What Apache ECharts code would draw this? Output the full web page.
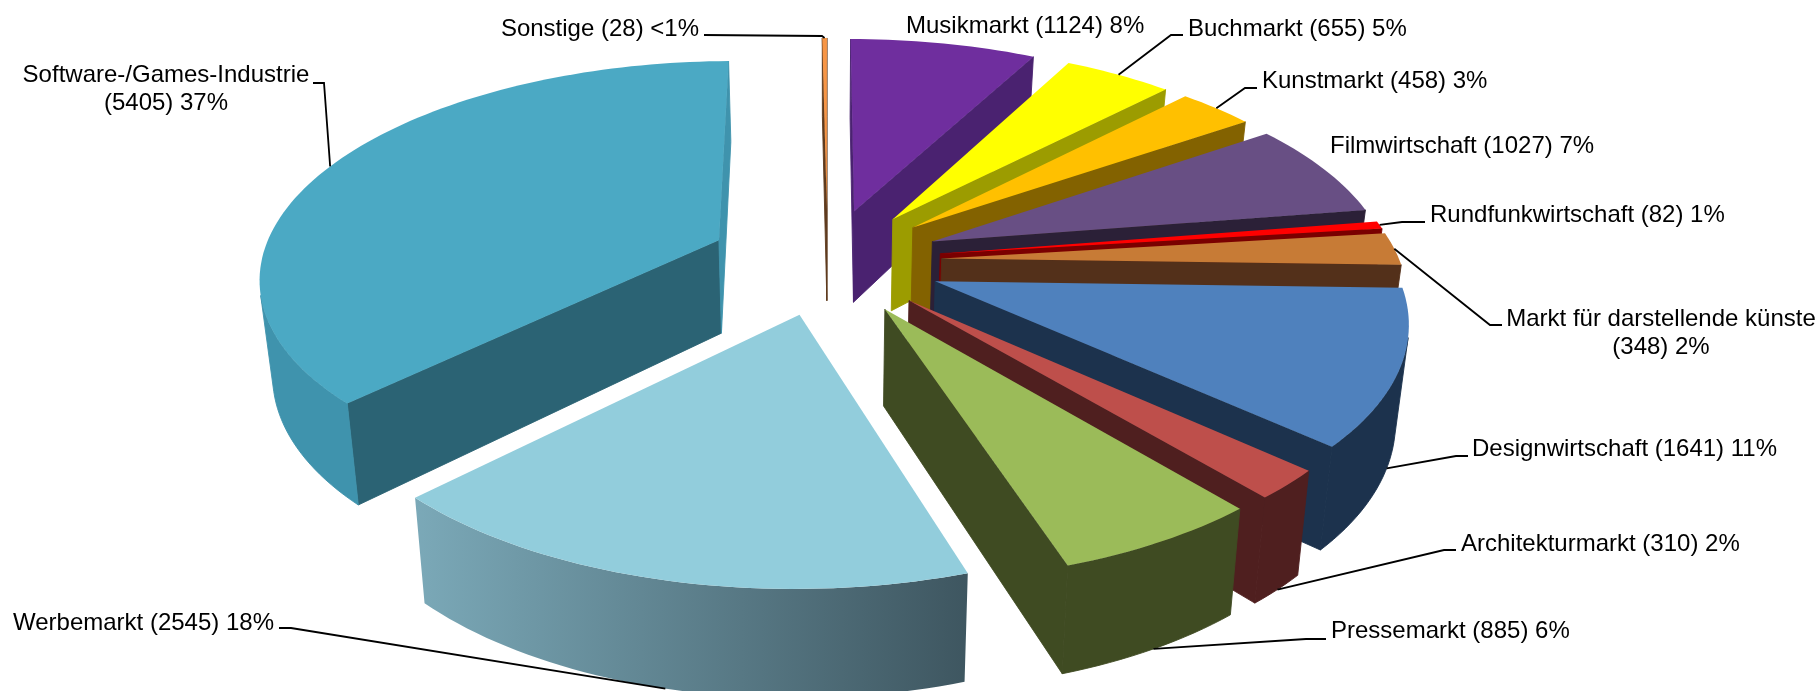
<!DOCTYPE html>
<html>
<head>
    <meta charset="UTF-8">
    <title>Kreativwirtschaft</title>
    <script src="https://cdn.jsdelivr.net/npm/echarts@6/dist/echarts.min.js"></script>
    <style>
        *{margin:0;padding:0}
        html,body{width:100%;height:100%;background:#fff;overflow:hidden}
        #main{width:1820px;height:691px}
    </style>
</head>
<body>
    <div id="main"></div>

    <script type="text/javascript">
        // clockwise from 12 o'clock
        var names = ['Musikmarkt','Buchmarkt','Kunstmarkt','Filmwirtschaft','Rundfunkwirtschaft','Markt für darstellende künste','Designwirtschaft','Architekturmarkt','Pressemarkt','Werbemarkt','Software-/Games-Industrie','Sonstige'];
        var values = [1124,655,458,1027,82,348,1641,310,885,2545,5405,28];
        var percents = ['8%','5%','3%','7%','1%','2%','11%','2%','6%','18%','37%','<1%'];

        var topColors = ['#6F2E9E','#FFFF00','#FFC000','#684F84','#FF0000','#C77B36','#4F81BD','#BE4F4B','#9BBB59','#92CDDC','#4BA9C4','#F79646'];
        var cutColors = ['#4A2270','#9C9C00','#836200','#2B2037','#7A0000','#53301A','#1C324D','#4F1F1F','#3F4B22','#3E5660','#2B6374','#5E3A1D'];
        var rimLeft   = ['#4A2270','#9C9C00','#836200','#2B2037','#7A0000','#53301A','#1C324D','#4F1F1F','#3F4B22','#7BA9B8','#3F93AD','#5E3A1D'];
        var rimRight  = ['#4A2270','#9C9C00','#836200','#2B2037','#7A0000','#53301A','#1C324D','#4F1F1F','#3F4B22','#3E5660','#3F93AD','#5E3A1D'];

        // label anchor, elbow of leader (null = no leader)
        var labelPos = [
            {x:906,y:26,align:'left'},{x:1188,y:29,align:'left'},{x:1262,y:81,align:'left'},{x:1330,y:146,align:'left'},
            {x:1430,y:215,align:'left'},{x:1661,y:333,align:'center',br:true},{x:1472,y:449,align:'left'},{x:1461,y:544,align:'left'},
            {x:1331,y:631,align:'left'},{x:274,y:623,align:'right'},{x:166,y:89,align:'center',br:true},{x:699,y:29,align:'right'}
        ];
        var leaders = [
            null,[[1183,35],[1171,35]],[[1257,88],[1245,88]],null,
            [[1425,222],[1402,222]],[[1502,325],[1490,325]],[[1468,456],[1456,456]],[[1456,550],[1444,550]],
            [[1326,639],[1306,639]],[[279,628],[291,628]],[[313,83],[324,83]],[[704,35],[822,36]]
        ];
        // where the leader touches the slice: fraction across the arc, 0 top rim / 1 bottom rim
        var leaderTouch = [null,[.5,0],[.5,0],null,[.5,0],[.5,0],[.5,1],[.5,1],[.5,1],[.5,1],[.5,0],[.5,0]];
        var explodes = [.25,.25,.25,.25,.25,.25,.25,.25,.25,.25,.26,.25];

        var cx = 827.5, cy = 261, sx = 458, sy = 213, persp = .155, depth = 94, shrink = .023;
        var total = values.reduce(function (a, b) { return a + b; }, 0);
        var starts = [], acc = 0;
        values.forEach(function (v) { starts.push(acc / total * 2 * Math.PI); acc += v; });

        function project(X, Y, z) {
            var w = 1 / (1 - persp * Y);
            return [cx + X * sx * w * (1 - shrink * z), cy + Y * sy * w + z * depth * (1 + .13 * Y)];
        }
        function slicePoint(i, ang, r, z) {
            var mid = starts[i] + values[i] / total * Math.PI;
            var X = explodes[i] * Math.sin(mid) + r * Math.sin(ang), Y = -explodes[i] * Math.cos(mid) - r * Math.cos(ang);
            return project(X, Y, z);
        }
        function area(p) {
            var s = 0;
            for (var i = 0; i < p.length; i++) {
                var q = p[(i + 1) % p.length];
                s += p[i][0] * q[1] - q[0] * p[i][1];
            }
            return s;
        }
        function poly(points, color, z2, edge) {
            return {type: 'polygon', z2: z2, shape: {points: points}, style: {fill: color, stroke: edge ? color : null, lineWidth: .9}};
        }

        // back slices first
        var order = values.map(function (v, i) { return i; }).sort(function (a, b) {
            var ma = starts[a] + values[a] / total * Math.PI, mb = starts[b] + values[b] / total * Math.PI;
            return -Math.cos(ma) + Math.cos(mb);
        });

        function renderSlice(params, api) {
            var i = params.dataIndex, value = api.value(0);
            var a0 = starts[i], a1 = a0 + value / total * 2 * Math.PI;
            var base = (order.indexOf(i) + 1) * 10, kids = [];
            var n = Math.max(2, Math.ceil((a1 - a0) / .025)), t, rimTop = [], rimBottom = [];
            for (t = 0; t <= n; t++) {
                rimTop.push(slicePoint(i, a0 + (a1 - a0) * t / n, 1, 0));
                rimBottom.push(slicePoint(i, a0 + (a1 - a0) * t / n, 1, 1));
            }

            var A = slicePoint(i, a0, 0, 0), Ab = slicePoint(i, a0, 0, 1);
            var startFace = [A, rimTop[0], rimBottom[0], Ab];
            var endFace = [A, rimTop[n], rimBottom[n], Ab];
            if (area(startFace) < 0) kids.push(poly(startFace, cutColors[i], base, true));
            if (area(endFace) > 0) kids.push(poly(endFace, i === 10 ? rimRight[i] : cutColors[i], base, true));

            // visible part of the outer wall as one shape
            var upper = [], lower = [];
            for (t = 0; t < n; t++) {
                if (area([rimTop[t], rimTop[t + 1], rimBottom[t + 1], rimBottom[t]]) < 0) {
                    if (!upper.length) { upper.push(rimTop[t]); lower.push(rimBottom[t]); }
                    upper.push(rimTop[t + 1]);
                    lower.push(rimBottom[t + 1]);
                }
            }
            if (upper.length) {
                var wall = rimLeft[i] === rimRight[i] ? rimLeft[i] : new echarts.graphic.LinearGradient(0, 0, 1, 0, [
                    {offset: 0, color: rimLeft[i]}, {offset: 1, color: rimRight[i]}
                ]);
                kids.push(poly(upper.concat(lower.reverse()), wall, base + 1, rimLeft[i] === rimRight[i]));
            }
            kids.push(poly([A].concat(rimTop), topColors[i], base + 2, false));
            return {type: 'group', children: kids};
        }

        var labelGraphics = [];
        names.forEach(function (name, i) {
            var pos = labelPos[i];
            labelGraphics.push({
                type: 'text', x: pos.x, y: pos.y, z: 10,
                style: {
                    text: name + (pos.br ? '\n' : ' ') + '(' + values[i] + ') ' + percents[i],
                    fill: '#000', font: '24px "Liberation Sans"', lineHeight: 28,
                    textAlign: pos.align, textVerticalAlign: 'middle'
                }
            });
            if (leaders[i]) {
                var mid = starts[i] + values[i] / total * 2 * Math.PI * leaderTouch[i][0];
                var end = slicePoint(i, mid, 1, leaderTouch[i][1]);
                labelGraphics.push({
                    type: 'polyline', z: 10,
                    shape: {points: leaders[i].concat([end])},
                    style: {stroke: '#000', lineWidth: 1.8, fill: null}
                });
            }
        });

        var myChart = echarts.init(document.getElementById('main'));
        var option = {
            animation: false,
            graphic: labelGraphics,
            series: [{
                type: 'custom',
                coordinateSystem: 'none',
                renderItem: renderSlice,
                silent: true,
                data: values.map(function (v) { return [v]; })
            }]
        };
        myChart.setOption(option);
    </script>
</body>
</html>
